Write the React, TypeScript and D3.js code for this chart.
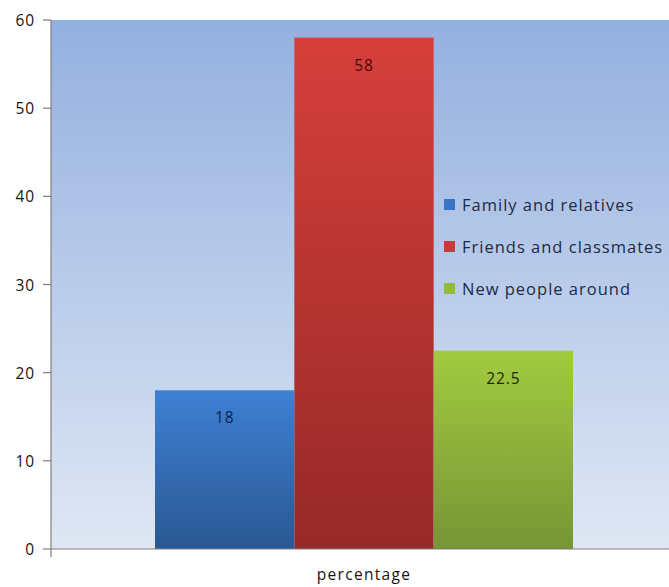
import React from "react";
import * as d3 from "d3";

const categories = ["percentage"];
const seriesNames = ["Family and relatives", "Friends and classmates", "New people around"];
const seriesValues = [18, 58, 22.5];
const yTicks = [0, 10, 20, 30, 40, 50, 60];
const gradTop = ["#3e80d4", "#d63f3b", "#a2cb40"];
const gradBot = ["#2a5893", "#962928", "#769535"];
const legendColors = ["#3a74c4", "#c93b36", "#93bb3c"];
const labelColors = ["#0f1f4a", "#4a0a0a", "#1e2a05"];

export default function App() {
  const W = 669, H = 587;
  const left = 51, top = 20, bottom = 549, right = 669;
  const y = d3.scaleLinear().domain([0, 60]).range([bottom, top]);
  const x0 = d3.scaleBand().domain(categories).range([155, 573]).padding(0);
  const x1 = d3.scaleBand().domain(seriesNames).range([0, x0.bandwidth()]).padding(0);
  const font = "'Open Sans', 'DejaVu Sans', sans-serif";
  const fs = 15.5;
  const ls = 0.9;
  return (
    <svg width={W} height={H} style={{ position: "absolute", left: 0, top: 0 }} fontFamily={font}>
      <defs>
        <linearGradient id="bg" x1="0" y1="0" x2="0" y2="1">
          <stop offset="0" stopColor="#93b0df" />
          <stop offset="1" stopColor="#dfe7f4" />
        </linearGradient>
        {seriesNames.map((s, i) => (
          <linearGradient key={s} id={"g" + i} x1="0" y1="0" x2="0" y2="1">
            <stop offset="0" stopColor={gradTop[i]} />
            <stop offset="1" stopColor={gradBot[i]} />
          </linearGradient>
        ))}
      </defs>
      <rect x={0} y={0} width={W} height={H} fill="#ffffff" />
      <rect x={left} y={top} width={right - left} height={bottom - top} fill="url(#bg)" />
      {categories.map((c) =>
        seriesNames.map((s, i) => {
          const bx = (x0(c) ?? 0) + (x1(s) ?? 0);
          const by = y(seriesValues[i]);
          return (
            <g key={s}>
              <rect x={bx} y={by} width={x1.bandwidth()} height={bottom - by} fill={`url(#g${i})`} />
              <text x={bx + x1.bandwidth() / 2} y={by + 33} textAnchor="middle" fontSize={fs} letterSpacing={ls} fill={labelColors[i]}>
                {seriesValues[i]}
              </text>
            </g>
          );
        })
      )}
      <line x1={left} y1={top} x2={left} y2={bottom + 8} stroke="#7f7f7f" strokeWidth={1.2} />
      <line x1={left} y1={bottom} x2={right} y2={bottom} stroke="#7f7f7f" strokeWidth={1.2} />
      {yTicks.map((t) => (
        <g key={t}>
          <line x1={left - 8} x2={left} y1={y(t)} y2={y(t)} stroke="#7f7f7f" strokeWidth={1.2} />
          <text x={35} y={y(t) + 6} textAnchor="end" fontSize={fs} letterSpacing={ls} fill="#141414">{t}</text>
        </g>
      ))}
      {categories.map((c) => (
        <text key={c} x={(x0(c) ?? 0) + x0.bandwidth() / 2} y={580} textAnchor="middle" fontSize={fs} letterSpacing={1.3} fill="#141414">{c}</text>
      ))}
      {seriesNames.map((s, i) => (
        <g key={s} transform={`translate(444, ${205 + i * 42})`}>
          <rect x={0} y={-6} width={11} height={11} fill={legendColors[i]} />
          <text x={18} y={6} fontSize={16.5} letterSpacing={1.0} fill="#1f2a44">{s}</text>
        </g>
      ))}
    </svg>
  );
}
